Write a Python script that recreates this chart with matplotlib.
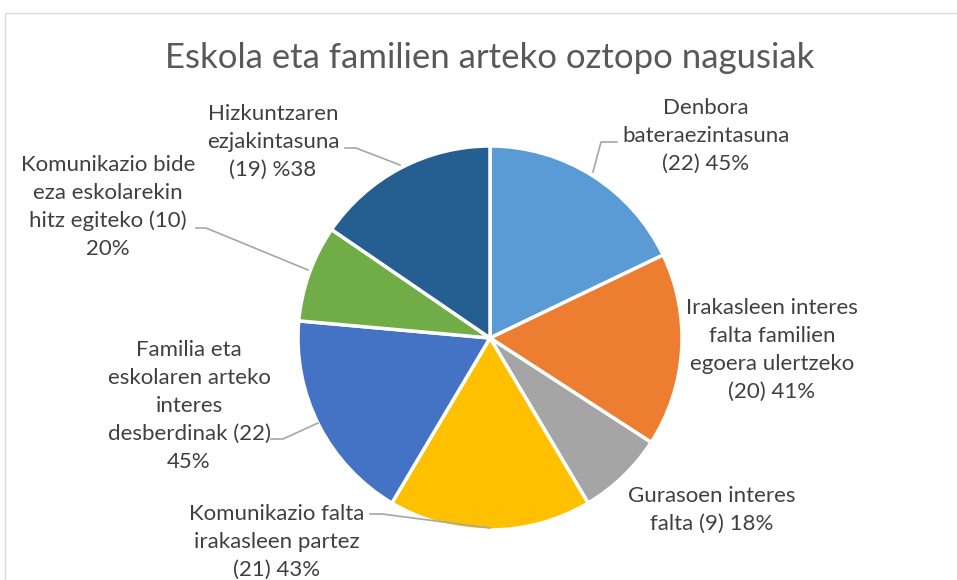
import matplotlib
matplotlib.use("Agg")
import matplotlib.pyplot as plt
from matplotlib.patches import Rectangle

plt.rcParams["font.family"] = ["Lato", "DejaVu Sans"]

categories = [
    "Denbora\nbateraezintasuna",
    "Irakasleen interes\nfalta familien\negoera ulertzeko",
    "Gurasoen interes\nfalta",
    "Komunikazio falta\nirakasleen partez",
    "Familia eta\neskolaren arteko\ninteres\ndesberdinak",
    "Komunikazio bide\neza eskolarekin\nhitz egiteko",
    "Hizkuntzaren\nezjakintasuna",
]
counts = [22, 20, 9, 21, 22, 10, 19]
percent_text = ["45%", "41%", "18%", "43%", "45%", "20%", "%38"]
colors = ["#5B9BD5", "#ED7D31", "#A5A5A5", "#FFC000", "#4472C4", "#70AD47", "#255E91"]

W, H = 957, 580
TEXT_COLOR = "#404040"
LINE_COLOR = "#A6A6A6"


def py(y):
    # pixel rows (top-down) to data y (bottom-up)
    return H - y


def label_text(i):
    name = categories[i]
    if i in (4, 5):
        return name + f" ({counts[i]})\n{percent_text[i]}"
    if i == 2:
        return name + f" ({counts[i]}) {percent_text[i]}"
    return name + f"\n({counts[i]}) {percent_text[i]}"


# label centre positions (pixels) and leader lines
label_pos = [(706, 136), (772, 350), (712, 510), (277, 542), (189, 406), (108, 207), (273, 142)]
leaders = {
    0: [(617, 142), (601, 142), (593, 172)],
    3: [(370, 514), (382, 514), (490, 528)],
    4: [(271, 439), (283, 439), (318, 423)],
    5: [(196, 228), (206, 228), (308, 270)],
    6: [(345, 148), (356, 148), (400, 165)],
}

fig = plt.figure(figsize=(W / 100, H / 100), dpi=100)
ax = fig.add_axes([0, 0, 1, 1])
ax.set_xlim(0, W)
ax.set_ylim(0, H)
ax.set_aspect("equal")
ax.axis("off")

ax.add_patch(Rectangle((5, py(600)), 1000, 587, fill=False, edgecolor="#D9D9D9", linewidth=1))

ax.pie(
    counts,
    colors=colors,
    startangle=90,
    counterclock=False,
    center=(490, py(338)),
    radius=192,
    wedgeprops=dict(edgecolor="white", linewidth=2.5),
)

for i, (x, y) in enumerate(label_pos):
    ax.text(x, py(y), label_text(i), ha="center", va="center", fontsize=16,
            color=TEXT_COLOR, linespacing=1.5)

for pts in leaders.values():
    ax.plot([p[0] for p in pts], [py(p[1]) for p in pts], color=LINE_COLOR, linewidth=1.2)

ax.text(490, py(58), "Eskola eta familien arteko oztopo nagusiak", ha="center", va="center",
        fontsize=25, color="#595959")

ax.set_xlim(0, W)
ax.set_ylim(0, H)
fig.savefig("out.png", dpi=100)
